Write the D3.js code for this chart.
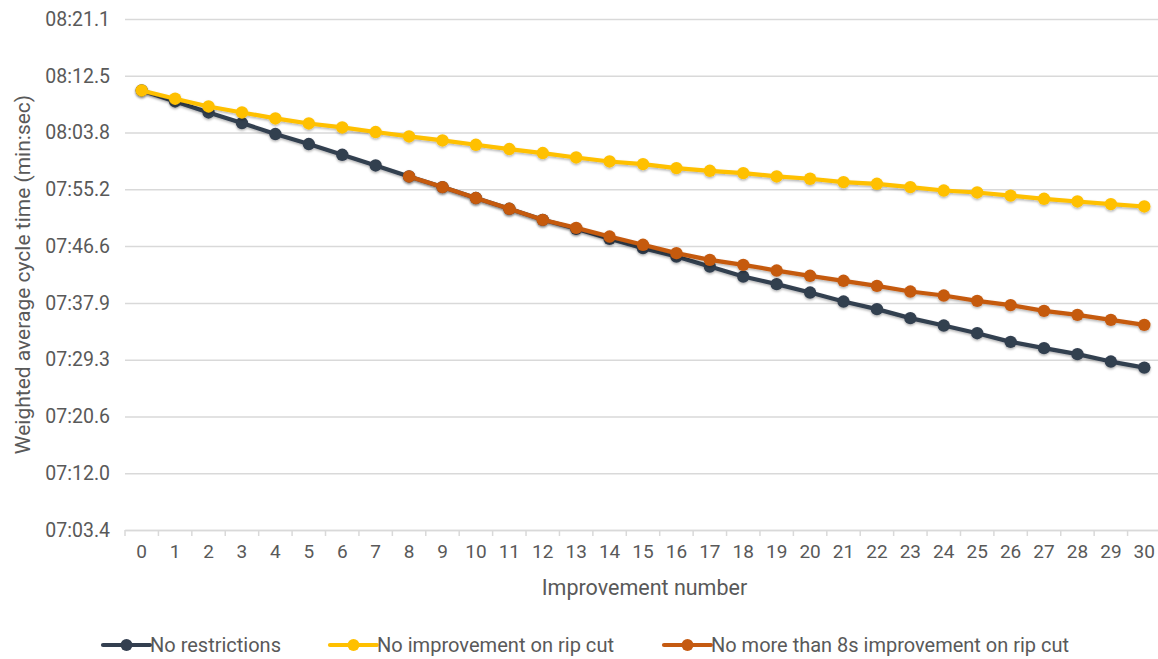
<!DOCTYPE html>
<html>
<head>
<meta charset="utf-8">
<script src="https://cdn.jsdelivr.net/npm/d3@7"></script>
<style>
  html, body { margin: 0; padding: 0; background: #fff; }
  svg { display: block; font-family: Roboto, "Noto Sans", sans-serif; }
</style>
</head>
<body>
<svg id="chart" width="1158" height="659"></svg>
<script>
// ---- data (seconds) ----
const categories = d3.range(0, 31).map(String);
const noRestrictions = [490.25, 488.57, 486.90, 485.29, 483.61, 482.09, 480.46, 478.83, 477.16, 475.54,
  473.87, 472.24, 470.56, 469.19, 467.67, 466.25, 464.97, 463.45, 461.93, 460.77,
  459.49, 458.12, 456.97, 455.60, 454.47, 453.31, 451.99, 451.03, 450.12, 448.99, 448.07];
const noImprovementRipCut = [490.25, 488.99, 487.81, 486.90, 485.99, 485.22, 484.62, 483.92, 483.25, 482.64,
  481.98, 481.33, 480.72, 480.05, 479.44, 479.04, 478.43, 478.02, 477.67, 477.16,
  476.81, 476.30, 476.04, 475.54, 475.02, 474.72, 474.25, 473.76, 473.35, 472.95, 472.59];
const max8sRipCut = [null, null, null, null, null, null, null, null, 477.16, 475.54,
  473.87, 472.24, 470.56, 469.34, 468.02, 466.76, 465.49, 464.47, 463.71, 462.84,
  462.04, 461.28, 460.51, 459.65, 459.04, 458.23, 457.58, 456.71, 456.10, 455.34, 454.58];
const seriesNames = ["No restrictions", "No improvement on rip cut", "No more than 8s improvement on rip cut"];
const seriesColors = ["#333f50", "#ffc000", "#c55a11"];
const yTickValues = [423.36, 432.00, 440.64, 449.28, 457.92, 466.56, 475.20, 483.84, 492.48, 501.12];
const yTitle = "Weighted average cycle time (min:sec)";
const xTitle = "Improvement number";

// ---- chart ----
(function () {
const svg = d3.select("#chart");
const pL = 125, pR = 1161, pT = 19, pB = 530;

const x = d3.scaleBand().domain(categories).range([pL, pR]).paddingInner(0).paddingOuter(0);
const y = d3.scaleLinear().domain([yTickValues[0], yTickValues[yTickValues.length - 1]]).range([pB, pT]);
const cx = c => x(c) + x.bandwidth() / 2;

function fmt(s) {
  const m = Math.floor(s / 60);
  const sec = s - m * 60;
  let str = sec.toFixed(1);
  if (sec < 10) str = "0" + str;
  return String(m).padStart(2, "0") + ":" + str;
}

const defs = svg.append("defs");
const f = defs.append("filter").attr("id", "shadow").attr("x", "-5%").attr("y", "-20%").attr("width", "110%").attr("height", "140%");
f.append("feDropShadow").attr("dx", 0).attr("dy", 1.5).attr("stdDeviation", 1.3)
  .attr("flood-color", "#000").attr("flood-opacity", 0.3);

// y grid + labels
const yAxis = d3.axisLeft(y).tickValues(yTickValues).tickFormat(fmt).tickSize(-(pR - pL)).tickPadding(15);
const gy = svg.append("g").attr("transform", `translate(${pL},0)`).call(yAxis);
gy.select(".domain").remove();
gy.selectAll(".tick line").attr("stroke", "#d9d9d9").attr("stroke-width", 1.5);
gy.selectAll(".tick text").attr("fill", "#595959").attr("font-size", 19.5).attr("font-family", "Roboto");

// x axis
const xAxis = d3.axisBottom(x).tickSize(0).tickPadding(15);
const gx = svg.append("g").attr("transform", `translate(0,${pB})`).call(xAxis);
gx.select(".domain").attr("stroke", "#d9d9d9").attr("stroke-width", 1.5);
gx.selectAll(".tick text").attr("fill", "#595959").attr("font-size", 19).attr("font-family", "Roboto");
gx.selectAll("line.bt").data(categories).enter().append("line").attr("class", "bt")
  .attr("x1", d => x(d)).attr("x2", d => x(d)).attr("y1", 0).attr("y2", 6)
  .attr("stroke", "#d9d9d9").attr("stroke-width", 1.5);

// titles
svg.append("text").attr("transform", `translate(30,${(pT + pB) / 2}) rotate(-90)`)
  .attr("text-anchor", "middle").attr("fill", "#595959").attr("font-size", 21).text(yTitle);
svg.append("text").attr("x", (pL + 1158) / 2 + 3).attr("y", 595)
  .attr("text-anchor", "middle").attr("fill", "#595959").attr("font-size", 21.5).text(xTitle);

// series
const seriesData = [noRestrictions, noImprovementRipCut, max8sRipCut];
const line = d3.line().defined(d => d.v != null).x(d => cx(d.c)).y(d => y(d.v));
seriesData.forEach((vals, i) => {
  const pts = vals.map((v, j) => ({ c: categories[j], v }));
  const g = svg.append("g").attr("filter", "url(#shadow)");
  g.append("path").datum(pts).attr("d", line).attr("fill", "none")
    .attr("stroke", seriesColors[i]).attr("stroke-width", 4.2).attr("stroke-linejoin", "round");
  g.selectAll("circle").data(pts.filter(d => d.v != null)).enter().append("circle")
    .attr("cx", d => cx(d.c)).attr("cy", d => y(d.v)).attr("r", 6.2).attr("fill", seriesColors[i]);
});

// legend
const legendItems = [
  { x0: 103, x1: 150, tw: 131 },
  { x0: 330, x1: 377, tw: 237 },
  { x0: 664, x1: 711, tw: 358 }
];
const ly = 645;
legendItems.forEach((it, i) => {
  const g = svg.append("g");
  g.append("line").attr("x1", it.x0).attr("x2", it.x1).attr("y1", ly).attr("y2", ly)
    .attr("stroke", seriesColors[i]).attr("stroke-width", 4.2).attr("stroke-linecap", "round");
  g.append("circle").attr("cx", (it.x0 + it.x1) / 2).attr("cy", ly).attr("r", 6).attr("fill", seriesColors[i]);
  g.append("text").attr("x", it.x1).attr("y", ly).attr("dy", "0.35em").attr("fill", "#595959")
    .attr("font-size", 20).attr("textLength", it.tw).attr("lengthAdjust", "spacingAndGlyphs").text(seriesNames[i]);
});
})();
</script>
</body>
</html>
